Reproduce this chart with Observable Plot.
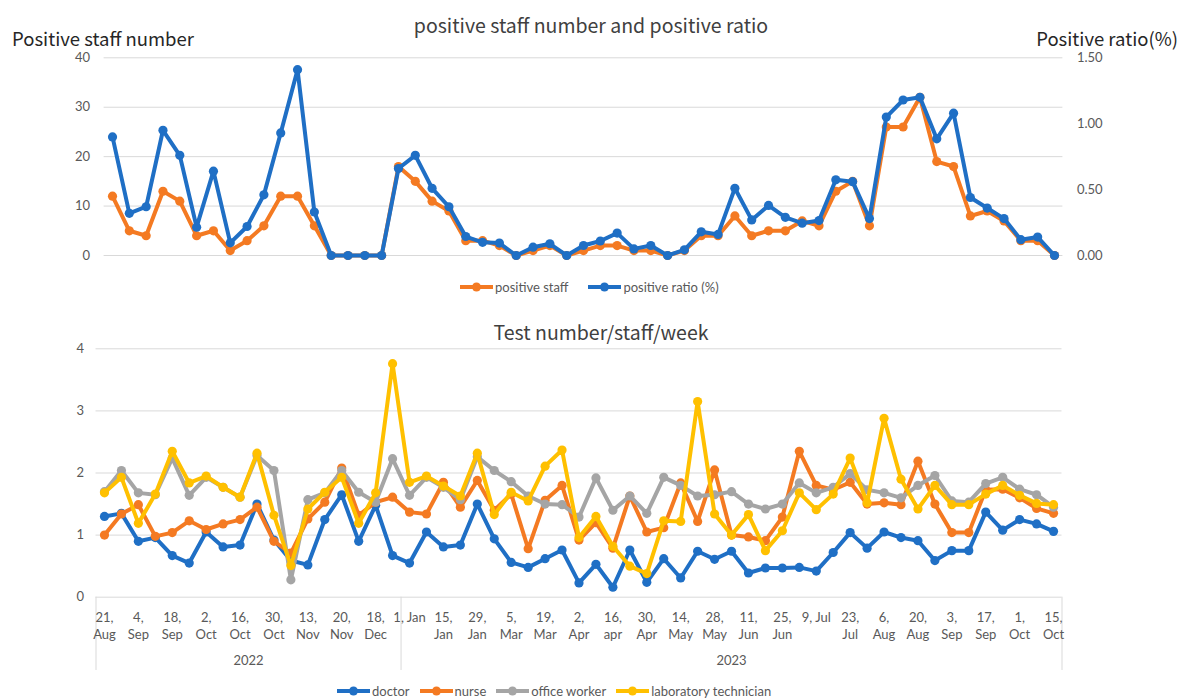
<!DOCTYPE html>
<html>
<head>
<meta charset="utf-8">
<script src="https://cdn.jsdelivr.net/npm/d3@7"></script>
<script src="https://cdn.jsdelivr.net/npm/@observablehq/plot@0.6"></script>
<style>
  html, body { margin: 0; padding: 0; background: #fff; }
  #wrap { position: relative; width: 1186px; height: 698px; overflow: hidden; background: #fff; }
  .abs { position: absolute; white-space: nowrap; line-height: 1.1; }
  .legend { position: absolute; display: flex; align-items: center; font-family: Lato, sans-serif; font-size: 13px; color: #595959; }
  .legend .item { display: flex; align-items: center; }
  .legend svg { display: block; margin-right: 2px; }
</style>
</head>
<body>
<div id="wrap"></div>
<script>
// ---------------- data ----------------
const positiveStaff = [12,5,4,13,11,4,5,1,3,6,12,12,6,0,0,0,0,18,15,11,9,3,3,2,0,1,2,0,1,2,2,1,1,0,1,4,4,8,4,5,5,7,6,13,15,6,26,26,32,19,18,8,9,7,3,3,0];
const positiveRatio = [0.90,0.32,0.37,0.95,0.76,0.215,0.64,0.096,0.22,0.46,0.93,1.41,0.33,0,0,0,0,0.66,0.76,0.51,0.37,0.144,0.10,0.094,0,0.063,0.089,0,0.076,0.11,0.17,0.05,0.076,0,0.043,0.18,0.16,0.51,0.27,0.38,0.29,0.245,0.265,0.574,0.56,0.28,1.05,1.18,1.20,0.885,1.08,0.44,0.36,0.28,0.12,0.14,0];

const doctor = [1.30,1.35,0.90,0.96,0.67,0.55,1.05,0.81,0.84,1.50,0.92,0.59,0.52,1.25,1.65,0.90,1.48,0.67,0.55,1.05,0.81,0.84,1.50,0.94,0.56,0.48,0.62,0.76,0.23,0.53,0.16,0.76,0.24,0.62,0.31,0.74,0.61,0.74,0.39,0.47,0.47,0.48,0.42,0.72,1.04,0.79,1.05,0.96,0.91,0.59,0.75,0.75,1.37,1.08,1.25,1.18,1.06];
const nurse = [1.00,1.34,1.49,0.98,1.04,1.23,1.09,1.18,1.25,1.45,0.90,0.71,1.26,1.53,2.08,1.32,1.53,1.61,1.37,1.34,1.85,1.45,1.88,1.40,1.66,0.78,1.56,1.80,0.92,1.20,0.79,1.63,1.05,1.12,1.84,1.22,2.05,1.00,0.97,0.91,1.29,2.35,1.80,1.73,1.85,1.50,1.52,1.49,2.19,1.50,1.04,1.04,1.73,1.74,1.60,1.43,1.35];
const officeWorker = [1.70,2.04,1.68,1.65,2.24,1.64,1.93,1.77,1.61,2.28,2.04,0.28,1.57,1.68,2.04,1.69,1.53,2.23,1.64,1.93,1.77,1.57,2.26,2.04,1.86,1.63,1.50,1.49,1.29,1.92,1.40,1.63,1.35,1.93,1.80,1.63,1.65,1.70,1.50,1.42,1.50,1.84,1.68,1.77,1.99,1.73,1.68,1.60,1.80,1.96,1.55,1.53,1.83,1.93,1.74,1.65,1.45];
const labTechnician = [1.68,1.93,1.19,1.66,2.35,1.84,1.95,1.77,1.61,2.32,1.32,0.51,1.42,1.69,1.93,1.19,1.68,3.76,1.85,1.95,1.79,1.63,2.32,1.33,1.69,1.55,2.11,2.37,0.96,1.30,0.82,0.50,0.38,1.23,1.22,3.15,1.34,1.00,1.33,0.75,1.07,1.68,1.41,1.66,2.24,1.52,2.88,1.90,1.42,1.80,1.49,1.49,1.66,1.80,1.64,1.51,1.49];

const tickLabels = ["21,\nAug","4,\nSep","18,\nSep","2,\nOct","16,\nOct","30,\nOct","13,\nNov","20,\nNov","18,\nDec",
  "1, Jan","15,\nJan","29,\nJan","5,\nMar","19,\nMar","2,\nApr","16,\napr","30,\nApr","14,\nMay","28,\nMay","11,\nJun","25,\nJun",
  "9, Jul","23,\nJul","6,\nAug","20,\nAug","3,\nSep","17,\nSep","1,\nOct","15,\nOct"];
const tickIndex = [0,2,4,6,8,10,12,14,16,18,20,22,24,26,28,30,32,34,36,38,40,42,44,46,48,50,52,54,56];
const years = ["2022","2023"];
const yearFirst = [0,18];
const yearLast = [17,56];

const staffTicks = [0,10,20,30,40];
const ratioTicks = [0,0.5,1,1.5];
const testTicks = [0,1,2,3,4];

const seriesNames = ["doctor","nurse","office worker","laboratory technician"];
const seriesValues = [doctor, nurse, officeWorker, labTechnician];

// ---------------- styles ----------------
const BLUE = "#1f6fc5", ORANGE = "#f47a22", GREY = "#a5a5a5", YELLOW = "#ffc000";
const seriesColors = [BLUE, ORANGE, GREY, YELLOW];
const GRID = "#d9d9d9", TICK = "#595959";
const N = positiveStaff.length;
const ratioScale = 40 / 1.5; // right axis 0..1.5 shares the left 0..40 frame

const wrap = document.getElementById("wrap");
function place(text, x, y, style) {
  const d = document.createElement("div");
  d.className = "abs";
  d.textContent = text;
  d.style.left = x + "px";
  d.style.top = y + "px";
  d.style.transform = style.transform || "translate(-50%,-50%)";
  d.style.fontFamily = style.fontFamily || "'Noto Sans CJK JP', 'Noto Sans', sans-serif";
  d.style.fontSize = (style.fontSize || 18) + "px";
  d.style.color = style.color || "#404040";
  wrap.appendChild(d);
}
function legend(names, colors, left, topY, gap) {
  const L = document.createElement("div");
  L.className = "legend";
  L.style.left = left + "px";
  L.style.top = topY + "px";
  L.style.transform = "translateY(-50%)";
  names.forEach((n, i) => {
    const it = document.createElement("div");
    it.className = "item";
    if (i > 0) it.style.marginLeft = gap + "px";
    it.innerHTML = `<svg width="33" height="12"><line x1="0" y1="6" x2="33" y2="6" stroke="${colors[i]}" stroke-width="4"/><circle cx="16.5" cy="6" r="4.5" fill="${colors[i]}"/></svg><span>${n}</span>`;
    L.appendChild(it);
  });
  wrap.appendChild(L);
}
function holder(topY) {
  const h = document.createElement("div");
  h.style.position = "absolute";
  h.style.left = "0px";
  h.style.top = topY + "px";
  wrap.appendChild(h);
  return h;
}

const idx = d3.range(N);

// ---------------- top chart ----------------
const topChart = Plot.plot({
  width: 1186, height: 300,
  marginTop: 57.3, marginBottom: 45, marginLeft: 103.6, marginRight: 123.6,
  x: {type: "linear", domain: [-0.5, N - 0.5], axis: null},
  y: {domain: [0, 40], axis: null},
  style: {fontFamily: "Lato, sans-serif", fontSize: "13px", color: TICK, background: "transparent", overflow: "visible"},
  marks: [
    Plot.gridY(staffTicks, {stroke: GRID, strokeOpacity: 1, strokeWidth: 1}),
    Plot.axisY({ticks: staffTicks, anchor: "left", tickSize: 0, tickPadding: 14, label: null, fill: TICK, fontSize: 13, tickFormat: d3.format("d")}),
    Plot.axisY({ticks: ratioTicks.map(r => r * ratioScale), anchor: "right", tickSize: 0, tickPadding: 14, label: null,
      tickFormat: v => (v / ratioScale).toFixed(2), fill: TICK, fontSize: 13}),
    Plot.line(idx, {x: i => i, y: i => positiveStaff[i], stroke: ORANGE, strokeWidth: 4, strokeLinejoin: "round"}),
    Plot.dot(idx, {x: i => i, y: i => positiveStaff[i], fill: ORANGE, r: 4.6}),
    Plot.line(idx, {x: i => i, y: i => positiveRatio[i] * ratioScale, stroke: BLUE, strokeWidth: 4, strokeLinejoin: "round"}),
    Plot.dot(idx, {x: i => i, y: i => positiveRatio[i] * ratioScale, fill: BLUE, r: 4.6})
  ]
});
holder(0).appendChild(topChart);

// ---------------- bottom chart ----------------
const yearCenter = years.map((y, k) => (yearFirst[k] - 0.5 + yearLast[k] + 0.5) / 2);
const dividers = [-0.5, yearLast[0] + 0.5, N - 0.5];
const bottomMarks = [
  Plot.gridY(testTicks, {stroke: GRID, strokeOpacity: 1, strokeWidth: 1}),
  Plot.ruleX(dividers, {y1: 0, y2: -1.18, stroke: GRID, strokeWidth: 1}),
  Plot.axisY({ticks: testTicks, anchor: "left", tickSize: 0, tickPadding: 12, label: null, fill: TICK, fontSize: 13, tickFormat: d3.format("d")}),
  Plot.text(tickIndex, {x: d => d, frameAnchor: "bottom", dy: 13, lineAnchor: "top", lineHeight: 1.3,
    text: (d, i) => tickLabels[i], fill: TICK, fontSize: 13, textAnchor: "middle"}),
  Plot.text(years, {x: (d, k) => yearCenter[k], frameAnchor: "bottom", dy: 64, lineAnchor: "middle",
    text: d => d, fill: TICK, fontSize: 13})
];
seriesValues.forEach((vals, s) => {
  bottomMarks.push(Plot.line(idx, {x: i => i, y: i => vals[i], stroke: seriesColors[s], strokeWidth: 4, strokeLinejoin: "round"}));
  bottomMarks.push(Plot.dot(idx, {x: i => i, y: i => vals[i], fill: seriesColors[s], r: 4.6}));
});
const bottomChart = Plot.plot({
  width: 1186, height: 398,
  marginTop: 48.3, marginBottom: 101.3, marginLeft: 95.5, marginRight: 124.5,
  x: {type: "linear", domain: [-0.5, N - 0.5], axis: null},
  y: {domain: [0, 4], axis: null},
  style: {fontFamily: "Lato, sans-serif", fontSize: "13px", color: TICK, background: "transparent", overflow: "visible"},
  marks: bottomMarks
});
holder(300).appendChild(bottomChart);

// ---------------- texts & legends ----------------
place("positive staff number and positive ratio", 591, 25, {fontSize: 19.5, color: "#404040"});
place("Positive staff number", 12, 38, {fontSize: 18.5, color: "#262626", transform: "translate(0,-50%)"});
place("Positive ratio(%)", 1178, 38, {fontSize: 18.5, color: "#262626", transform: "translate(-100%,-50%)"});
place("Test number/staff/week", 601, 332, {fontSize: 19.5, color: "#404040"});
legend(["positive staff", "positive ratio (%)"], [ORANGE, BLUE], 460, 287, 20);
legend(seriesNames, seriesColors, 337, 691, 10);
</script>
</body>
</html>
